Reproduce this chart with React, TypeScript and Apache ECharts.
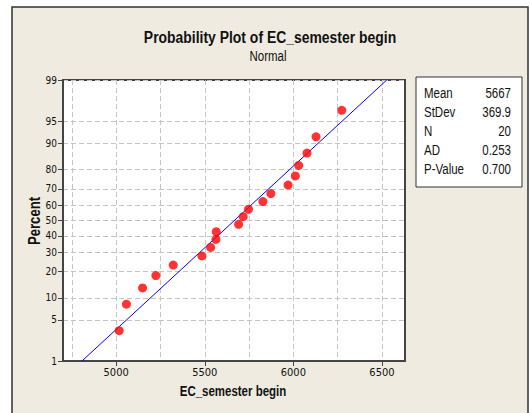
import React, { useEffect, useRef } from "react";
import * as echarts from "echarts";

// Data values
const dataValues = [5017, 5058, 5149, 5224, 5322, 5484, 5533, 5563, 5565, 5691, 5717, 5747, 5828, 5873, 5970, 6011, 6030, 6077, 6128, 6273];
const dataPercents = [3.4, 8.3, 13.2, 18.1, 23.0, 27.9, 32.8, 37.7, 42.6, 47.5, 52.5, 57.4, 62.3, 67.2, 72.1, 77.0, 81.9, 86.8, 91.7, 96.6];
// Fitted line endpoints
const fitX = [4807, 6527];
const fitPct = [1, 99];
// Axis ticks
const yTickPercents = [1, 5, 10, 20, 30, 40, 50, 60, 70, 80, 90, 95, 99];
const xTickLabels = [5000, 5500, 6000, 6500];
const xGridValues = [4750, 5000, 5250, 5500, 5750, 6000, 6250, 6500];
// Stats
const statLabels = ["Mean", "StDev", "N", "AD", "P-Value"];
const statValues = ["5667", "369.9", "20", "0.253", "0.700"];

const NARROW = "'Liberation Sans', Arial, sans-serif";
const TICKFONT = "'DejaVu Sans Condensed', 'Liberation Sans', sans-serif";
const SQ = 0.82;

function probit(p: number): number {
  const a = [-3.969683028665376e1, 2.209460984245205e2, -2.759285104469687e2, 1.38357751867269e2, -3.066479806614716e1, 2.506628277459239];
  const b = [-5.447609879822406e1, 1.615858368580409e2, -1.556989798598866e2, 6.680131188771972e1, -1.328068155288572e1];
  const c = [-7.784894002430293e-3, -3.223964580411365e-1, -2.400758277161838, -2.549732539343734, 4.374664141464968, 2.938163982698783];
  const d = [7.784695709041462e-3, 3.224671290700398e-1, 2.445134137142996, 3.754408661907416];
  const pl = 0.02425;
  const ph = 1 - pl;
  let q: number, r: number;
  if (p < pl) {
    q = Math.sqrt(-2 * Math.log(p));
    return (((((c[0] * q + c[1]) * q + c[2]) * q + c[3]) * q + c[4]) * q + c[5]) / ((((d[0] * q + d[1]) * q + d[2]) * q + d[3]) * q + 1);
  }
  if (p <= ph) {
    q = p - 0.5;
    r = q * q;
    return ((((((a[0] * r + a[1]) * r + a[2]) * r + a[3]) * r + a[4]) * r + a[5]) * q) / (((((b[0] * r + b[1]) * r + b[2]) * r + b[3]) * r + b[4]) * r + 1);
  }
  q = Math.sqrt(-2 * Math.log(1 - p));
  return -(((((c[0] * q + c[1]) * q + c[2]) * q + c[3]) * q + c[4]) * q + c[5]) / ((((d[0] * q + d[1]) * q + d[2]) * q + d[3]) * q + 1);
}

export default function App() {
  const ref = useRef<HTMLDivElement>(null);
  useEffect(() => {
    if (!ref.current) return;
    const chart = echarts.init(ref.current, null, { renderer: "svg" });
    const yTicksZ = yTickPercents.map((p) => probit(p / 100));
    const zMin = probit(0.01);
    const zMax = probit(0.99);
    const rowY = [93, 112, 131, 150, 169];
    const txt = (text: string, x: number, y: number, size: number, bold: boolean, align: string, rot = 0) => ({
      type: "text",
      x,
      y,
      rotation: rot,
      scaleX: SQ,
      z: 100,
      style: {
        text,
        fill: "#111",
        font: `${bold ? "bold " : ""}${size}px ${NARROW}`,
        textAlign: align,
        textVerticalAlign: "middle",
      },
    });
    const graphics: any[] = [
      {
        type: "rect",
        z: -10,
        shape: { x: 12, y: 7, width: 516, height: 420 },
        style: { fill: "#EFEBE0", stroke: "#333", lineWidth: 1.5 },
        silent: true,
      },
      {
        type: "rect",
        shape: { x: 416, y: 77, width: 106, height: 110 },
        style: { fill: "#FFFFFF", stroke: "#333", lineWidth: 1 },
      },
      txt("Probability Plot of EC_semester begin", 270, 37, 17, true, "center"),
      txt("Normal", 268, 56, 14, false, "center"),
      txt("EC_semester begin", 233, 391, 14, true, "center"),
      txt("Percent", 35, 221, 16, true, "center", Math.PI / 2),
    ];
    statLabels.forEach((s, i) => {
      graphics.push(txt(s, 424, rowY[i], 14, false, "left"));
      graphics.push(txt(statValues[i], 511, rowY[i], 14, false, "right"));
    });
    chart.setOption({
      animation: false,
      backgroundColor: "transparent",
      graphic: graphics,
      grid: {
        left: 63,
        top: 80,
        width: 342,
        height: 281,
        show: true,
        backgroundColor: "#FFFFFF",
        borderColor: "#444",
        borderWidth: 2,
      },
      xAxis: [
        {
          type: "value",
          min: 4700,
          max: 6630,
          axisLine: { show: true, onZero: false, lineStyle: { color: "#444", width: 2 } },
          axisTick: { show: true, length: 5, customValues: xTickLabels, lineStyle: { color: "#444" } },
          axisLabel: {
            customValues: xTickLabels,
            fontFamily: TICKFONT,
            fontSize: 11,
            color: "#111",
            margin: 6,
            formatter: (v: number) => String(v),
          },
          splitLine: { show: false },
        },
        {
          type: "value",
          min: 4700,
          max: 6630,
          position: "bottom",
          axisLine: { show: false, onZero: false },
          axisTick: { show: false, customValues: xGridValues },
          axisLabel: { show: false, customValues: xGridValues },
          splitLine: { show: true, lineStyle: { color: "#C4C4C4", type: [5, 3], width: 1 } },
        },
      ],
      yAxis: {
        type: "value",
        min: zMin,
        max: zMax,
        axisLine: { show: true, onZero: false, lineStyle: { color: "#444", width: 2 } },
        axisTick: { show: true, length: 5, customValues: yTicksZ, lineStyle: { color: "#444" } },
        axisLabel: {
          customValues: yTicksZ,
          fontFamily: TICKFONT,
          fontSize: 10,
          color: "#111",
          margin: 6,
          formatter: (v: number) => {
            let best = 0;
            let bd = Infinity;
            yTicksZ.forEach((z, i) => {
              const dd = Math.abs(z - v);
              if (dd < bd) {
                bd = dd;
                best = i;
              }
            });
            return String(yTickPercents[best]);
          },
        },
        splitLine: { show: true, lineStyle: { color: "#C4C4C4", type: [5, 3], width: 1 } },
      },
      series: [
        {
          type: "line",
          xAxisIndex: 0,
          data: fitX.map((x, i) => [x, probit(fitPct[i] / 100)]),
          symbol: "none",
          lineStyle: { color: "#0000FF", width: 1 },
          z: 2,
        },
        {
          type: "scatter",
          xAxisIndex: 0,
          data: dataValues.map((x, i) => [x, probit(dataPercents[i] / 100)]),
          symbol: "circle",
          symbolSize: 9,
          itemStyle: { color: "#FF0000" },
          z: 3,
        },
      ],
    });
    return () => chart.dispose();
  }, []);
  return <div ref={ref} style={{ position: "absolute", left: 0, top: 0, width: 530, height: 413 }} />;
}
